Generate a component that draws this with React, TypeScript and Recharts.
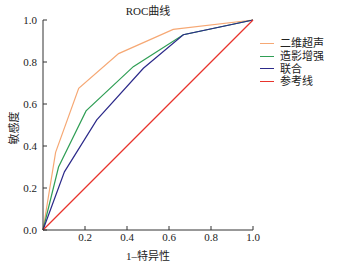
import { LineChart, Line, XAxis, YAxis } from 'recharts'

const fpr2d = [0, 0.06, 0.17, 0.36, 0.62, 1]
const tpr2d = [0, 0.37, 0.675, 0.84, 0.955, 1]
const fprCeus = [0, 0.074, 0.205, 0.43, 0.668, 1]
const tprCeus = [0, 0.3, 0.567, 0.778, 0.93, 1]
const fprJoint = [0, 0.102, 0.256, 0.478, 0.668, 1]
const tprJoint = [0, 0.277, 0.524, 0.77, 0.93, 1]
const fprRef = [0, 1]
const tprRef = [0, 1]

const xTicks = [0.2, 0.4, 0.6, 0.8, 1.0]
const yTicks = [0, 0.2, 0.4, 0.6, 0.8, 1.0]

const SERIES = [
  { name: '二维超声', color: '#f6a874', x: fpr2d, y: tpr2d },
  { name: '造影增强', color: '#2f9e55', x: fprCeus, y: tprCeus },
  { name: '联合', color: '#2c2a8a', x: fprJoint, y: tprJoint },
  { name: '参考线', color: '#e8342c', x: fprRef, y: tprRef },
]

const toPoints = (xs: number[], ys: number[]) => xs.map((x, i) => ({ x, y: ys[i] }))

const serif = '"Liberation Serif", "Times New Roman", "Noto Sans CJK SC", serif'
const axisColor = '#333'

function LegendBox() {
  return (
    <div style={{ position: 'absolute', left: 260, top: 37, fontFamily: serif, fontSize: 11, color: '#222', lineHeight: '12.8px' }}>
      {SERIES.map((s) => (
        <div key={s.name} style={{ display: 'flex', alignItems: 'center' }}>
          <span style={{ display: 'inline-block', width: 14, height: 0, borderTop: `1px solid ${s.color}`, marginRight: 6 }} />
          <span>{s.name}</span>
        </div>
      ))}
    </div>
  )
}

export default function App() {
  return (
    <div style={{ position: 'absolute', left: 0, top: 0, width: 349, height: 262, background: '#fff', fontFamily: serif }}>
      <div style={{ position: 'absolute', left: 0, top: 2, width: 296, textAlign: 'center', fontSize: 11, color: '#222' }}>
        ROC曲线
      </div>
      <LineChart width={349} height={262} margin={{ top: 20, right: 96, left: 13, bottom: 12 }} style={{ fontFamily: serif }}>
        <XAxis
          type="number"
          dataKey="x"
          domain={[0, 1]}
          ticks={xTicks}
          tickFormatter={(v: number) => v.toFixed(1)}
          tickSize={-4}
          tickMargin={7}
          height={20}
          stroke={axisColor}
          tick={{ fill: '#222', fontSize: 11, fontFamily: serif }}
          allowDuplicatedCategory={false}
          label={{ value: '1–特异性', position: 'insideBottom', offset: -10, fill: '#222', fontSize: 11, fontFamily: serif }}
        />
        <YAxis
          type="number"
          domain={[0, 1]}
          ticks={yTicks}
          tickFormatter={(v: number) => v.toFixed(1)}
          tickSize={-4}
          tickMargin={10}
          width={30}
          stroke={axisColor}
          tick={{ fill: '#222', fontSize: 11, fontFamily: serif }}
          label={{
            content: () => (
              <text x={18} y={128} transform="rotate(-90 18 128)" textAnchor="middle" fill="#222" fontSize={11} fontFamily={serif}>
                敏感度
              </text>
            ),
          }}
        />
        {SERIES.map((s) => (
          <Line
            key={s.name}
            data={toPoints(s.x, s.y)}
            dataKey="y"
            name={s.name}
            type="linear"
            stroke={s.color}
            strokeWidth={1.2}
            dot={false}
            isAnimationActive={false}
          />
        ))}
      </LineChart>
      <LegendBox />
    </div>
  )
}
